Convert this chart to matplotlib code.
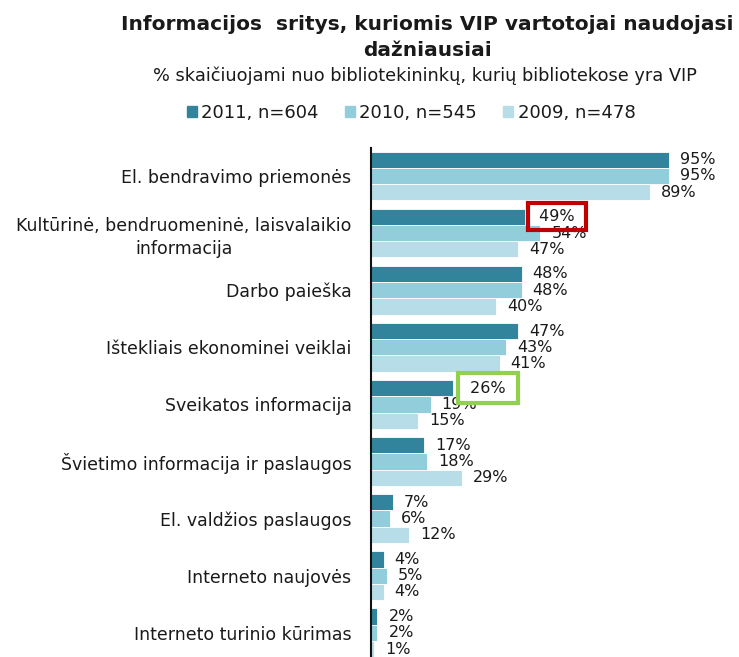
import numpy as np
import matplotlib.pyplot as plt
from matplotlib.patches import Patch

# duomenys
categories = ['El. bendravimo priemonės',
              'Kultūrinė, bendruomeninė, laisvalaikio\ninformacija',
              'Darbo paieška',
              'Ištekliais ekonominei veiklai',
              'Sveikatos informacija',
              'Švietimo informacija ir paslaugos',
              'El. valdžios paslaugos',
              'Interneto naujovės',
              'Interneto turinio kūrimas']
series_names = ['2011, n=604', '2010, n=545', '2009, n=478']
v2011 = [95, 49, 48, 47, 26, 17, 7, 4, 2]
v2010 = [95, 54, 48, 43, 19, 18, 6, 5, 2]
v2009 = [89, 47, 40, 41, 15, 29, 12, 4, 1]
colors = ['#31849B', '#92CDDC', '#B7DEE8']

plt.rcParams['font.family'] = ['DejaVu Sans']
txt = '#1a1a1a'

fig = plt.figure(figsize=(7.39, 6.57), dpi=100)
W, H = 739, 657
# axes px: left 371, top 148, 57.1 px per group
unit = 57.1
ytop, ybot = -0.49, 8.6
ax_h = (ybot - ytop) * unit
ax_w = 3.137 * 100
ax = fig.add_axes([371 / W, (H - 148 - ax_h) / H, ax_w / W, ax_h / H])

y = np.arange(len(categories))
bh = 0.285
data = [v2011, v2010, v2009]
for k, vals in enumerate(data):
    yy = y + (k - 1) * bh
    ax.barh(yy, vals, height=bh, color=colors[k], edgecolor='white', linewidth=0.6)
    for i, v in enumerate(vals):
        if (k, i) in [(0, 1), (0, 4)]:
            continue
        ax.annotate(f'{v}%', (v, yy[i]), xytext=(8, 0), textcoords='offset points',
                    va='center', ha='left', fontsize=11.5, color=txt)

# paryškinti langeliai
ax.annotate(f' {v2011[1]}% ', (v2011[1], y[1] - bh), xytext=(6.5, 0), textcoords='offset points',
            va='center', ha='left', fontsize=11.5, color=txt,
            bbox=dict(boxstyle='square,pad=0.38', fc='none', ec='#C00000', lw=3))
ax.annotate(f' {v2011[4]}% ', (v2011[4], y[4] - bh), xytext=(9, 0), textcoords='offset points',
            va='center', ha='left', fontsize=11.5, color=txt,
            bbox=dict(boxstyle='square,pad=0.45', fc='white', ec='#92D050', lw=3))

ax.set_xlim(0, 100)
ax.set_ylim(ybot, ytop)
ax.set_yticks(y)
ax.set_yticklabels(categories, fontsize=12.5, color=txt, multialignment='center',
                   linespacing=1.35)
ax.tick_params(axis='y', length=0, pad=14)
ax.set_xticks([])
for s in ['top', 'right', 'bottom']:
    ax.spines[s].set_visible(False)
ax.spines['left'].set_linewidth(1.5)
ax.spines['left'].set_color('#111111')

fig.text(427 / W, 1 - 25 / H, 'Informacijos  sritys, kuriomis VIP vartotojai naudojasi',
         ha='center', va='center', fontsize=14.5, fontweight='bold', color=txt)
fig.text(427 / W, 1 - 50 / H, 'dažniausiai',
         ha='center', va='center', fontsize=14.5, fontweight='bold', color=txt)
fig.text(425 / W, 1 - 76 / H, '% skaičiuojami nuo bibliotekininkų, kurių bibliotekose yra VIP',
         ha='center', va='center', fontsize=12.8, color=txt)

handles = [Patch(color=c) for c in colors]
fig.legend(handles, series_names, loc='center', bbox_to_anchor=(411 / W, 1 - 113 / H),
           ncol=3, frameon=False, fontsize=13, handlelength=0.55, handleheight=0.55,
           handletextpad=0.25, columnspacing=1.45, labelcolor=txt)

fig.savefig('out.png', dpi=100)
